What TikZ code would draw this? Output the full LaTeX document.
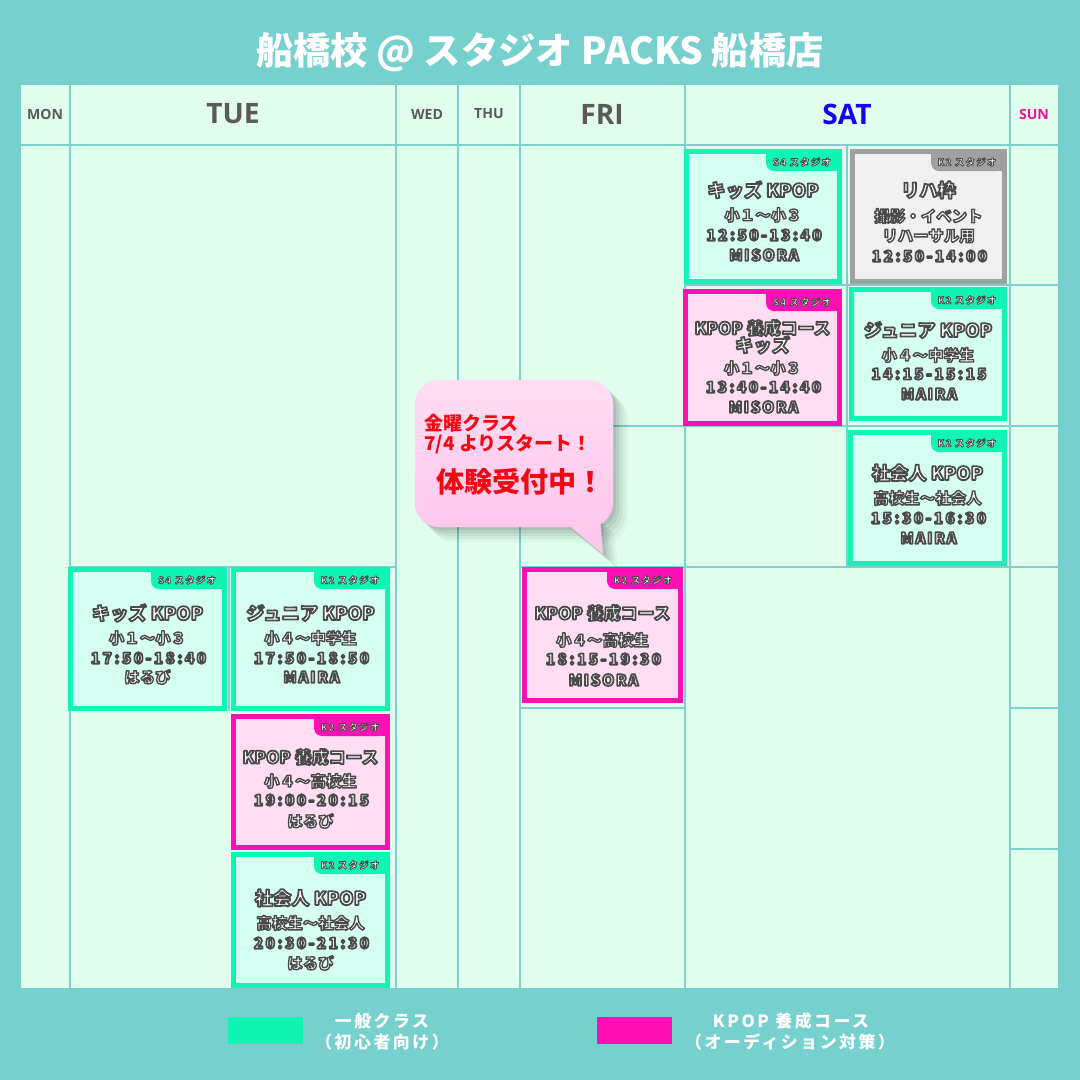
\documentclass[tikz,border=0pt]{standalone}
\usepackage{fontspec}
\usetikzlibrary{calc}
\newfontfamily\jp{Noto Sans CJK JP}
\newfontfamily\jpnum{Noto Sans CJK JP}[LetterSpace=15]
\newfontfamily\jpnm{Noto Sans CJK JP}[LetterSpace=10]
\newfontfamily\jptag{Noto Sans CJK JP}[LetterSpace=12]
\newfontfamily\jpleg{Noto Sans CJK JP}[LetterSpace=15]
\newfontfamily\daysf{Open Sans}
\definecolor{bg}{HTML}{76D0CE}
\definecolor{mint}{HTML}{E0FDEE}
\definecolor{gridln}{HTML}{7DD0CC}
\definecolor{kgreen}{HTML}{10F5B4}
\definecolor{kgreenfill}{HTML}{D4FFF1}
\definecolor{kpink}{HTML}{FF10B4}
\definecolor{kpinkfill}{HTML}{FFDDF3}
\definecolor{kgray}{HTML}{A0A0A0}
\definecolor{kgrayfill}{HTML}{F0F0F0}
\definecolor{dayg}{HTML}{5A5A5A}
\definecolor{satblue}{HTML}{1400F0}
\definecolor{sunpink}{HTML}{F0109C}
\definecolor{bubred}{HTML}{F00A14}
\definecolor{bubtop}{HTML}{FFDDF3}
\definecolor{bubbot}{HTML}{FFC8EC}
% outlined text: white fill, dark grey stroke (PDF text render mode 2)
\newcommand\ol[1]{\special{pdf:literal direct 2 Tr 1.25 w 1 j 0.29 0.29 0.29 RG}#1\special{pdf:literal direct 0 Tr}}
\newcommand\ols[1]{\special{pdf:literal direct 2 Tr 1.0 w 1 j 0.29 0.29 0.29 RG}#1\special{pdf:literal direct 0 Tr}}
\newcommand\olt[1]{\special{pdf:literal direct 2 Tr 0.6 w 1 j 0.29 0.29 0.29 RG}#1\special{pdf:literal direct 0 Tr}}
\newcommand\cbox[7]{%
  \node[#2box, minimum width={(#5-#3-5)*0.025cm}, minimum height={(#6-#4-5)*0.025cm}] (#1) at ({(#3+#5)/2},{(#4+#6)/2}) {};
  \fill[#2tag, rounded corners=0.2cm] ({#5-76},{#4+3}) rectangle ({#5-3},{#4+22});
  \fill[#2tag] ({#5-66},{#4+3}) rectangle ({#5-3},{#4+22});
  \fill[#2tag] ({#5-76},{#4+3}) rectangle ({#5-3},{#4+12});
  \node[tagtxt] (#1t) at ({#5-40},{#4+13}) {\olt{#7}};
}
\begin{document}
\begin{tikzpicture}[x=0.025cm, y=-0.025cm,
  gridline/.style={draw=gridln, line width=0.8pt},
  gbox/.style={draw=kgreen, fill=kgreenfill, line width=3.56pt, inner sep=0pt, rectangle},
  pbox/.style={draw=kpink, fill=kpinkfill, line width=3.56pt, inner sep=0pt, rectangle},
  kbox/.style={draw=kgray, fill=kgrayfill, line width=3.56pt, inner sep=0pt, rectangle},
  gtag/.style={fill=kgreen}, ptag/.style={fill=kpink}, ktag/.style={fill=kgray},
  tagtxt/.style={font=\jptag\bfseries\fontsize{6.8}{7}\selectfont, text=white, inner sep=0pt},
  ttl/.style={font=\jp\bfseries\fontsize{13}{15}\selectfont, text=white, inner sep=0pt},
  ttlk/.style={font=\jp\bfseries\fontsize{12}{14}\selectfont, text=white, inner sep=0pt},
  sub/.style={font=\jp\bfseries\fontsize{11}{13}\selectfont, text=white, inner sep=0pt},
  num/.style={font=\jpnum\bfseries\fontsize{11}{13}\selectfont, text=white, inner sep=0pt},
  nm/.style={font=\jpnm\bfseries\fontsize{11}{13}\selectfont, text=white, inner sep=0pt},
  daybig/.style={font=\daysf\bfseries\fontsize{20}{24}\selectfont, text=dayg, inner sep=0pt},
  daysm/.style={font=\daysf\bfseries\fontsize{10}{12}\selectfont, text=dayg, inner sep=0pt},
  bubtxt/.style={font=\jp\bfseries\fontsize{13.5}{16}\selectfont, text=bubred, inner sep=0pt, anchor=west},
  legtxt/.style={font=\jpleg\bfseries\fontsize{12}{14}\selectfont, text=white, inner sep=0pt},
  legbox/.style={minimum width=1.875cm, minimum height=0.675cm, inner sep=0pt}
]
\useasboundingbox (0,0) rectangle (1080,1080);
\fill[bg] (0,0) rectangle (1080,1080);
% title
\node[font=\jp\bfseries\fontsize{26.5}{30}\selectfont, text=white, inner sep=0pt] (title) at (540,52) {船橋校 @ スタジオ PACKS 船橋店};
% grid
\fill[mint] (21,85) rectangle (1058,988);
\draw[gridline] (21,145) -- (1058,145);
\foreach \xx in {70,396,458,520,685,1010} \draw[gridline] (\xx,85) -- (\xx,988);
\draw[gridline] (70,567) -- (396,567);
\draw[gridline] (229,567) -- (229,711);
\foreach \yy in {426,567,708} \draw[gridline] (520,\yy) -- (685,\yy);
\foreach \yy in {285,426,567} \draw[gridline] (685,\yy) -- (1010,\yy);
\draw[gridline] (847,145) -- (847,567);
\foreach \yy in {285,426,567,708,849} \draw[gridline] (1010,\yy) -- (1058,\yy);
% day headers
\node[daysm] (mon) at (45,114) {MON};
\node[daybig] (tue) at (233,114) {TUE};
\node[daysm] (wed) at (427,114) {WED};
\node[daysm] (thu) at (489,114) {THU};
\node[daybig] (fri) at (602,114) {FRI};
\node[daybig, text=satblue] (sat) at (847,114) {SAT};
\node[daysm, text=sunpink] (sun) at (1034,114) {SUN};
% boxes
\cbox{A}{g}{684}{149}{842}{284}{S4 スタジオ}
\node[ttl] (A1) at (763,190) {\ol{キッズ KPOP}};
\node[sub] (A2) at (763,215) {\ols{小１〜小３}};
\node[num] (A3) at (764,235) {\ol{12:50-13:40}};
\node[nm] (A4) at (764,255) {\ol{MISORA}};
\cbox{B}{k}{850}{149}{1007}{284}{K2 スタジオ}
\node[ttl] (B1) at (928.5,190) {\ol{リハ枠}};
\node[sub] (B2) at (928.5,216) {\ols{撮影・イベント}};
\node[sub] (B3) at (928.5,236) {\ols{リハーサル用}};
\node[num] (B4) at (929.5,256) {\ol{12:50-14:00}};
\cbox{C}{p}{683}{289}{842}{426}{S4 スタジオ}
\node[ttlk] (C1) at (762.5,328) {\ol{KPOP 養成コース}};
\node[ttl] (C2) at (762.5,345) {\ol{キッズ}};
\node[sub] (C3) at (762.5,368) {\ols{小１〜小３}};
\node[num] (C4) at (763.5,387) {\ol{13:40-14:40}};
\node[nm] (C5) at (763.5,407) {\ol{MISORA}};
\cbox{D}{g}{849}{287}{1007}{421}{K2 スタジオ}
\node[ttl] (D1) at (928,330) {\ol{ジュニア KPOP}};
\node[sub] (D2) at (928,355) {\ols{小４〜中学生}};
\node[num] (D3) at (929,374) {\ol{14:15-15:15}};
\node[nm] (D4) at (929,394) {\ol{MAIRA}};
\cbox{E}{g}{848}{430}{1007}{566}{K2 スタジオ}
\node[ttl] (E1) at (927.5,473) {\ol{社会人 KPOP}};
\node[sub] (E2) at (927.5,498) {\ols{高校生〜社会人}};
\node[num] (E3) at (928.5,518) {\ol{15:30-16:30}};
\node[nm] (E4) at (928.5,538) {\ol{MAIRA}};
\cbox{F}{p}{522}{567}{683}{703}{K2 スタジオ}
\node[ttlk] (F1) at (602.5,613) {\ol{KPOP 養成コース}};
\node[sub] (F2) at (602.5,640) {\ols{小４〜高校生}};
\node[num] (F3) at (603.5,659) {\ol{18:15-19:30}};
\node[nm] (F4) at (603.5,680) {\ol{MISORA}};
\cbox{G}{g}{68}{567}{227}{711}{S4 スタジオ}
\node[ttl] (G1) at (147.5,613) {\ol{キッズ KPOP}};
\node[sub] (G2) at (147.5,638) {\ols{小１〜小３}};
\node[num] (G3) at (148.5,658) {\ol{17:50-18:40}};
\node[sub] (G4) at (147.5,677) {\ols{はるび}};
\cbox{H}{g}{231}{567}{390}{711}{K2 スタジオ}
\node[ttl] (H1) at (310.5,613) {\ol{ジュニア KPOP}};
\node[sub] (H2) at (310.5,638) {\ols{小４〜中学生}};
\node[num] (H3) at (311.5,658) {\ol{17:50-18:50}};
\node[nm] (H4) at (311.5,677) {\ol{MAIRA}};
\cbox{I}{p}{231}{714}{390}{850}{K2 スタジオ}
\node[ttlk] (I1) at (310.5,757) {\ol{KPOP 養成コース}};
\node[sub] (I2) at (310.5,781) {\ols{小４〜高校生}};
\node[num] (I3) at (311.5,800) {\ol{19:00-20:15}};
\node[sub] (I4) at (310.5,821) {\ols{はるび}};
\cbox{J}{g}{231}{852}{390}{988}{K2 スタジオ}
\node[ttl] (J1) at (310.5,898) {\ol{社会人 KPOP}};
\node[sub] (J2) at (310.5,923) {\ols{高校生〜社会人}};
\node[num] (J3) at (311.5,943) {\ol{20:30-21:30}};
\node[sub] (J4) at (310.5,963) {\ols{はるび}};
% speech bubble
\foreach \d/\o in {3/0.07,6/0.06,9/0.05,12/0.04,15/0.03} {
  \fill[black, opacity=\o, rounded corners=0.6cm] ({415+\d},{380+\d}) rectangle ({613+\d},{527+\d});
  \fill[black, opacity=\o] ({562+\d},{520+\d}) -- ({603+\d},{554+\d}) -- ({600+\d},{518+\d}) -- cycle;
}
\shade[top color=bubtop, bottom color=bubbot, rounded corners=0.6cm] (415,380) rectangle (613,527);
\fill[bubbot] (562,520) -- (603,554) -- (600,518) -- cycle;
\node[bubtxt] (b1) at (424,423) {金曜クラス};
\node[bubtxt] (b2) at (424,444) {7/4 よりスタート！};
\node[bubtxt, font=\jp\bfseries\fontsize{20}{24}\selectfont] (b3) at (436,482) {体験受付中！};
% legend
\node[legbox, fill=kgreen] (lg) at (265.5,1030.5) {};
\node[legtxt] (lg1) at (382,1021) {一般クラス};
\node[legtxt] (lg2) at (382,1042) {（初心者向け）};
\node[legbox, fill=kpink] (lp) at (634.5,1030.5) {};
\node[legtxt] (lp1) at (791,1021) {KPOP 養成コース};
\node[legtxt] (lp2) at (790,1042) {（オーディション対策）};
\end{tikzpicture}
\end{document}
